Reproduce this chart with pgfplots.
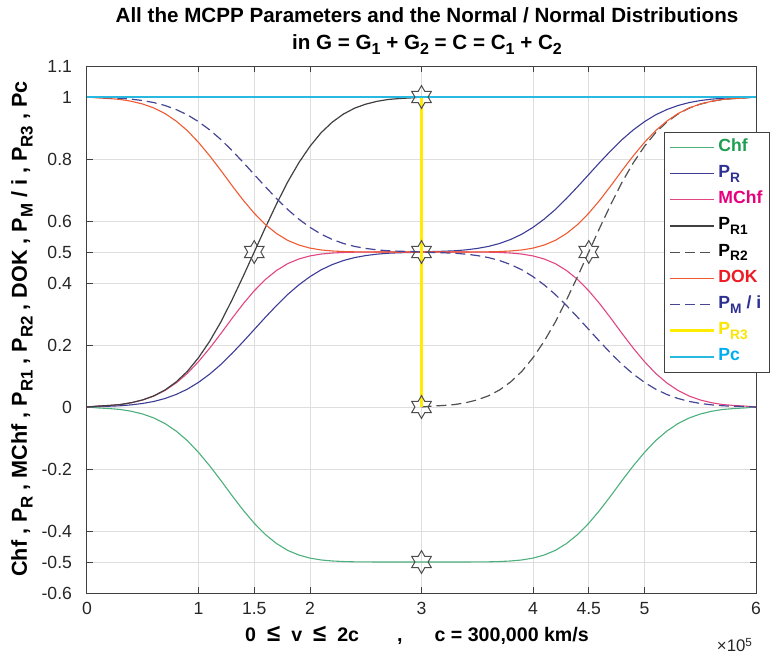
\documentclass[border=0pt]{standalone}
\usepackage{fontspec}
\setmainfont{Liberation Sans}
\usepackage{xcolor}
\usepackage{pgfplots}
\usepackage{pgfplotstable}
\pgfplotsset{compat=1.18}

\definecolor{chfl}{RGB}{77,175,124}
\definecolor{chft}{RGB}{30,158,80}
\definecolor{prl}{RGB}{60,60,150}
\definecolor{prt}{RGB}{46,49,146}
\definecolor{mchfl}{RGB}{225,70,130}
\definecolor{mchft}{RGB}{230,0,126}
\definecolor{pr1l}{RGB}{64,64,64}
\definecolor{pr2l}{RGB}{80,80,80}
\definecolor{dokl}{RGB}{240,90,50}
\definecolor{dokt}{RGB}{237,28,36}
\definecolor{pml}{RGB}{70,70,150}
\definecolor{pr3l}{RGB}{255,236,0}
\definecolor{pr3t}{RGB}{250,230,0}
\definecolor{pcl}{RGB}{40,185,225}
\definecolor{pct}{RGB}{0,174,239}

\newdimen\hexin
\pgfdeclareplotmark{hexagram}{%
  \hexin=0.577\pgfplotmarksize
  \pgfpathmoveto{\pgfpointpolar{90}{\pgfplotmarksize}}%
  \pgfpathlineto{\pgfpointpolar{60}{\hexin}}%
  \pgfpathlineto{\pgfpointpolar{30}{\pgfplotmarksize}}%
  \pgfpathlineto{\pgfpointpolar{0}{\hexin}}%
  \pgfpathlineto{\pgfpointpolar{-30}{\pgfplotmarksize}}%
  \pgfpathlineto{\pgfpointpolar{-60}{\hexin}}%
  \pgfpathlineto{\pgfpointpolar{-90}{\pgfplotmarksize}}%
  \pgfpathlineto{\pgfpointpolar{-120}{\hexin}}%
  \pgfpathlineto{\pgfpointpolar{-150}{\pgfplotmarksize}}%
  \pgfpathlineto{\pgfpointpolar{180}{\hexin}}%
  \pgfpathlineto{\pgfpointpolar{150}{\pgfplotmarksize}}%
  \pgfpathlineto{\pgfpointpolar{120}{\hexin}}%
  \pgfpathclose
  \pgfusepathqstroke
}

\newcommand{\sub}[1]{\raisebox{-0.5ex}{\scalebox{0.78}{#1}}}

% x  pr  mchf  chf  dok  pm
\pgfplotstableread{
x pr mchf chf dok pm
0.0 0 0 0 1 1
0.1 0.0015 0.003 -0.003 0.997 0.9985
0.2 0.0025 0.005 -0.005 0.995 0.9975
0.3 0.004 0.008 -0.008 0.992 0.996
0.4 0.007 0.0139 -0.0139 0.9861 0.993
0.5 0.0115 0.0227 -0.0227 0.9773 0.9885
0.6 0.018 0.0354 -0.0354 0.9646 0.982
0.7 0.0275 0.0535 -0.0535 0.9465 0.9725
0.8 0.0405 0.0777 -0.0777 0.9223 0.9595
0.9 0.0575 0.1084 -0.1084 0.8916 0.9425
1.0 0.0795 0.1464 -0.1464 0.8536 0.9205
1.1 0.106 0.1895 -0.1895 0.8105 0.894
1.2 0.137 0.2365 -0.2365 0.7635 0.863
1.3 0.1725 0.2855 -0.2855 0.7145 0.8275
1.4 0.2105 0.3324 -0.3324 0.6676 0.7895
1.5 0.25 0.375 -0.375 0.625 0.75
1.6 0.2895 0.4114 -0.4114 0.5886 0.7105
1.7 0.3275 0.4405 -0.4405 0.5595 0.6725
1.8 0.363 0.4625 -0.4625 0.5375 0.637
1.9 0.394 0.4775 -0.4775 0.5225 0.606
2.0 0.4205 0.4874 -0.4874 0.5126 0.5795
2.1 0.4425 0.4934 -0.4934 0.5066 0.5575
2.2 0.4595 0.4967 -0.4967 0.5033 0.5405
2.3 0.4725 0.4985 -0.4985 0.5015 0.5275
2.4 0.482 0.4994 -0.4994 0.5006 0.518
2.5 0.4885 0.4997 -0.4997 0.5003 0.5115
2.6 0.493 0.4999 -0.4999 0.5001 0.507
2.7 0.496 0.5 -0.5 0.5 0.504
2.8 0.4975 0.5 -0.5 0.5 0.5025
2.9 0.4985 0.5 -0.5 0.5 0.5015
3.0 0.5 0.5 -0.5 0.5 0.5
3.1 0.5015 0.5 -0.5 0.5 0.4985
3.2 0.5025 0.5 -0.5 0.5 0.4975
3.3 0.504 0.5 -0.5 0.5 0.496
3.4 0.507 0.4999 -0.4999 0.5001 0.493
3.5 0.5115 0.4997 -0.4997 0.5003 0.4885
3.6 0.518 0.4994 -0.4994 0.5006 0.482
3.7 0.5275 0.4985 -0.4985 0.5015 0.4725
3.8 0.5405 0.4967 -0.4967 0.5033 0.4595
3.9 0.5575 0.4934 -0.4934 0.5066 0.4425
4.0 0.5795 0.4874 -0.4874 0.5126 0.4205
4.1 0.606 0.4775 -0.4775 0.5225 0.394
4.2 0.637 0.4625 -0.4625 0.5375 0.363
4.3 0.6725 0.4405 -0.4405 0.5595 0.3275
4.4 0.7105 0.4114 -0.4114 0.5886 0.2895
4.5 0.75 0.375 -0.375 0.625 0.25
4.6 0.7895 0.3324 -0.3324 0.6676 0.2105
4.7 0.8275 0.2855 -0.2855 0.7145 0.1725
4.8 0.863 0.2365 -0.2365 0.7635 0.137
4.9 0.894 0.1895 -0.1895 0.8105 0.106
5.0 0.9205 0.1464 -0.1464 0.8536 0.0795
5.1 0.9425 0.1084 -0.1084 0.8916 0.0575
5.2 0.9595 0.0777 -0.0777 0.9223 0.0405
5.3 0.9725 0.0535 -0.0535 0.9465 0.0275
5.4 0.982 0.0354 -0.0354 0.9646 0.018
5.5 0.9885 0.0227 -0.0227 0.9773 0.0115
5.6 0.993 0.0139 -0.0139 0.9861 0.007
5.7 0.996 0.008 -0.008 0.992 0.004
5.8 0.9975 0.005 -0.005 0.995 0.0025
5.9 0.9985 0.003 -0.003 0.997 0.0015
6.0 1 0 0 1 0
}\maintable

\pgfplotstableread{
x p
0.0 0
0.1 0.003
0.2 0.005
0.3 0.008
0.4 0.014
0.5 0.023
0.6 0.036
0.7 0.055
0.8 0.081
0.9 0.115
1.0 0.159
1.1 0.212
1.2 0.274
1.3 0.345
1.4 0.421
1.5 0.5
1.6 0.579
1.7 0.655
1.8 0.726
1.9 0.788
2.0 0.841
2.1 0.885
2.2 0.919
2.3 0.945
2.4 0.964
2.5 0.977
2.6 0.986
2.7 0.992
2.8 0.995
2.9 0.997
3.0 1
}\prone

\pgfplotstableread{
x p
3.0 0
3.1 0.003
3.2 0.005
3.3 0.008
3.4 0.014
3.5 0.023
3.6 0.036
3.7 0.055
3.8 0.081
3.9 0.115
4.0 0.159
4.1 0.212
4.2 0.274
4.3 0.345
4.4 0.421
4.5 0.5
4.6 0.579
4.7 0.655
4.8 0.726
4.9 0.788
5.0 0.841
5.1 0.885
5.2 0.919
5.3 0.945
5.4 0.964
5.5 0.977
5.6 0.986
5.7 0.992
5.8 0.995
5.9 0.997
6.0 1
}\prtwo

\begin{document}
\begin{tikzpicture}
\begin{axis}[
  name=ax, at={(0,0)}, anchor=south west,
  scale only axis, width=334.5pt, height=263.5pt,
  xmin=0, xmax=6, ymin=-0.6, ymax=1.1,
  xtick={0,1,1.5,2,3,4,4.5,5,6},
  xticklabels={0,1,1.5,2,3,4,4.5,5,6},
  ytick={-0.6,-0.5,-0.4,-0.2,0,0.2,0.4,0.5,0.6,0.8,1,1.1},
  yticklabels={-0.6,-0.5,-0.4,-0.2,0,0.2,0.4,0.5,0.6,0.8,1,1.1},
  grid=major, major grid style={black!13, line width=0.5pt},
  tick align=inside, major tick length=3pt,
  axis line style={black!75, line width=0.5pt},
  tick style={black!75, line width=0.5pt},
  ticklabel style={font=\fontsize{8.8}{10}\selectfont, text=black!85},
  yticklabel style={xshift=-4pt},
  xticklabel style={yshift=-1pt},
  clip=false,
  legend cell align=left,
  legend style={at={(0.863,0.875)}, anchor=north west,
    font=\bfseries\fontsize{8.8}{10}\selectfont,
    draw=black!75, fill=white, line width=0.5pt,
    inner xsep=2pt, inner ysep=1pt,
    nodes={inner sep=1.3pt, text height=7.2pt, text depth=3.3pt},
    row sep=0pt},
  legend image code/.code={\draw[#1] (0pt,0pt) -- (22pt,0pt);},
]
\addplot[chfl, line width=0.55pt] table[x=x, y=chf] {\maintable};
\addlegendentry{\textcolor{chft}{Chf}}
\addplot[prl, line width=0.55pt] table[x=x, y=pr] {\maintable};
\addlegendentry{\textcolor{prt}{P\sub{R}}}
\addplot[mchfl, line width=0.55pt] table[x=x, y=mchf] {\maintable};
\addlegendentry{\textcolor{mchft}{MChf}}
\addplot[pr1l, line width=0.6pt] table[x=x, y=p] {\prone};
\addlegendentry{P\sub{R1}}
\addplot[pr2l, line width=0.6pt, dash pattern=on 5pt off 2.5pt] table[x=x, y=p] {\prtwo};
\addlegendentry{P\sub{R2}}
\addplot[dokl, line width=0.55pt] table[x=x, y=dok] {\maintable};
\addlegendentry{\textcolor{dokt}{DOK}}
\addplot[pml, line width=0.6pt, dash pattern=on 5pt off 2.5pt] table[x=x, y=pm] {\maintable};
\addlegendentry{\textcolor{prt}{P\sub{M} / i}}
\addplot[pr3l, line width=1.5pt] coordinates {(3,0) (3,1)};
\addlegendentry{\textcolor{pr3t}{P\sub{R3}}}
\addplot[pcl, line width=0.6pt] coordinates {(0,1) (6,1)};
\addlegendentry{\textcolor{pct}{Pc}}
\addplot[forget plot, only marks, mark=hexagram, mark size=5.7pt,
  mark options={draw=black!70, line width=0.5pt, fill=none}]
  coordinates {(1.5,0.5) (3,1) (3,0.5) (3,0) (3,-0.5) (4.5,0.5)};
\end{axis}
\node[font=\bfseries\fontsize{10.3}{13.5}\selectfont, align=center, anchor=center]
  at (170pt,281pt) {All the MCPP Parameters and the Normal / Normal Distributions\\
  in G = G\sub{1} + G\sub{2} = C = C\sub{1} + C\sub{2}};
\node[font=\bfseries\fontsize{9.8}{11}\selectfont, anchor=center]
  at (165pt,-21pt) {0\hspace{5.5pt}{\fontsize{12}{12}\selectfont ≤}\hspace{5.5pt}v\hspace{5.5pt}{\fontsize{12}{12}\selectfont ≤}\hspace{5.5pt}2c\hspace{19pt},\hspace{16pt}c = 300,000 km/s};
\node[font=\fontsize{8.4}{9}\selectfont, text=black!85, anchor=center]
  at (324pt,-26pt) {×10\textsuperscript{5}};
\node[font=\bfseries\fontsize{10.8}{12}\selectfont, rotate=90, anchor=center]
  at (-32.5pt,132pt) {Chf , P\sub{R} , MChf , P\sub{R1} , P\sub{R2} , DOK , P\sub{M} / i , P\sub{R3} , Pc};
\pgfresetboundingbox
\path[use as bounding box] (-43.5pt,-30.5pt) rectangle (341.5pt,296.5pt);
\end{tikzpicture}
\end{document}
